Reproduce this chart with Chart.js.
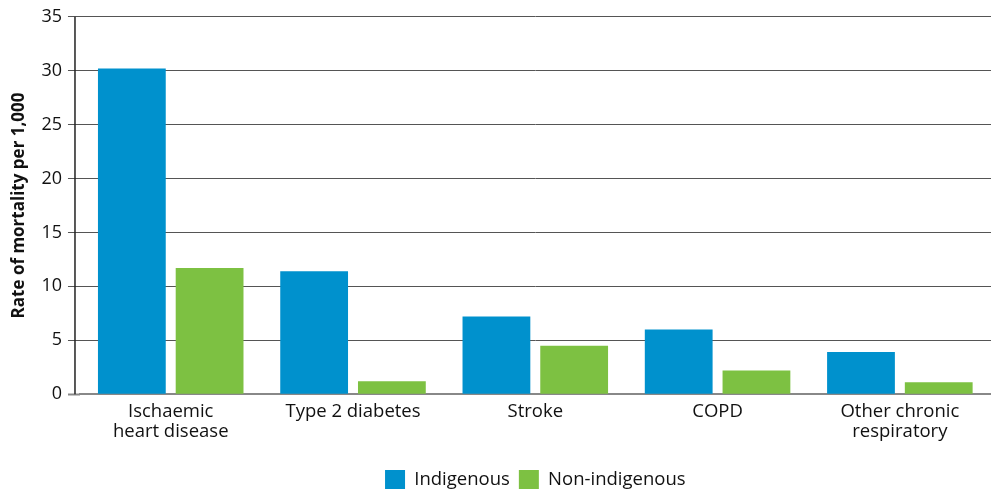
<!DOCTYPE html>
<html>
<head>
<meta charset="utf-8">
<style>
  html, body { margin: 0; padding: 0; background: #fff; }
  #wrap { width: 991px; height: 492px; }
</style>
<script src="https://cdn.jsdelivr.net/npm/chart.js@4/dist/chart.umd.min.js"></script>
</head>
<body>
<div id="wrap"><canvas id="c" width="991" height="492"></canvas></div>
<script>
// Chronic disease mortality, rate per 1,000
const categories = [
  ['Ischaemic', 'heart disease'],
  'Type 2 diabetes',
  'Stroke',
  'COPD',
  ['Other chronic', 'respiratory']
];
const indigenous = [30.2, 11.4, 7.2, 6.0, 3.9];
const nonIndigenous = [11.7, 1.2, 4.5, 2.2, 1.1];
const yTicks = [0, 5, 10, 15, 20, 25, 30, 35];

const FONT = '"Open Sans", "Noto Sans", sans-serif';
const AXIS_INSET = 4.6;   // vertical axis line sits a little left of the first category

// Vertical axis line, plus legend centred over the plot area
const layoutTweaks = {
  id: 'layoutTweaks',
  afterLayout(chart) {
    const lg = chart.legend;
    if (lg) {
      const w = lg.right - lg.left;
      const mid = (chart.chartArea.left + chart.chartArea.right) / 2;
      lg.left = mid - w / 2;
      lg.right = mid + w / 2;
    }
  },
  beforeDatasetsDraw(chart) {
    const { ctx, chartArea } = chart;
    const x = chartArea.left - AXIS_INSET;
    ctx.save();
    ctx.strokeStyle = '#222';
    ctx.lineWidth = 1.5;
    ctx.beginPath();
    ctx.moveTo(x, chartArea.top);
    ctx.lineTo(x, chartArea.bottom);
    ctx.stroke();
    ctx.restore();
  }
};

new Chart(document.getElementById('c'), {
  type: 'bar',
  data: {
    labels: categories,
    datasets: [
      { label: 'Indigenous', data: indigenous, backgroundColor: '#0091cd', borderWidth: 0 },
      { label: 'Non-indigenous', data: nonIndigenous, backgroundColor: '#7dc142', borderWidth: 0 }
    ]
  },
  plugins: [layoutTweaks],
  options: {
    responsive: false,
    animation: false,
    devicePixelRatio: 1,
    layout: { padding: { top: 7, right: -1.5, left: 9, bottom: -7 } },
    datasets: { bar: { categoryPercentage: 0.853, barPercentage: 0.872 } },
    plugins: {
      legend: {
        position: 'bottom',
        labels: {
          boxWidth: 20,
          boxHeight: 19,
          padding: 9,
          color: '#111',
          font: { family: FONT, size: 18.5 }
        }
      },
      tooltip: { enabled: false }
    },
    scales: {
      x: {
        grid: { display: false, drawTicks: false },
        border: { display: true, color: '#888', width: 2 },
        afterFit: (scale) => { scale.height += 12; },
        ticks: {
          color: '#111',
          padding: 8,
          maxRotation: 0,
          autoSkip: false,
          font: { family: FONT, size: 18.5, lineHeight: 1.05 }
        }
      },
      y: {
        min: 0,
        max: 35,
        afterBuildTicks: (axis) => { axis.ticks = yTicks.map(v => ({ value: v })); },
        grid: {
          color: (ctx) => ctx.tick && ctx.tick.value === 0 ? 'rgba(0,0,0,0)' : '#555',
          lineWidth: 1,
          tickLength: 7 + AXIS_INSET,
          tickColor: (ctx) => ctx.tick && ctx.tick.value === 0 ? '#888' : '#555',
          tickWidth: (ctx) => ctx.tick && ctx.tick.value === 0 ? 2 : 1
        },
        border: { display: false },
        ticks: {
          color: '#111',
          padding: 6,
          font: { family: FONT, size: 18 }
        },
        title: {
          display: true,
          text: 'Rate of mortality per 1,000',
          color: '#111',
          padding: { top: 0, bottom: 6 },
          font: { family: FONT, size: 17, weight: 'bold' }
        }
      }
    }
  }
});
</script>
</body>
</html>
